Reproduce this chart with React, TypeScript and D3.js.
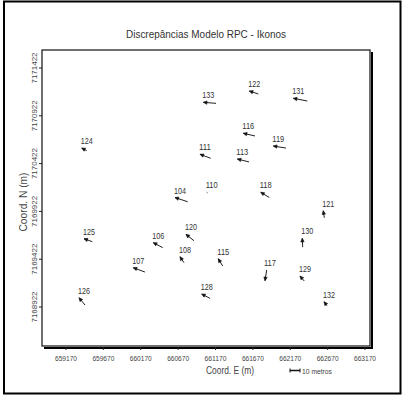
import React from "react";
import * as d3 from "d3";

const title = "Discrepâncias Modelo RPC - Ikonos";
const xTicks = [659170, 659670, 660170, 660670, 661170, 661670, 662170, 662670, 663170];
const yTicks = [7168922, 7169422, 7169922, 7170422, 7170922, 7171422];
const stationIds = ["133", "124", "111", "104", "110", "122", "131", "116", "119", "113", "118", "125", "106", "120", "108", "115", "107", "126", "128", "121", "130", "117", "129", "132"];
const eastings = [661007, 659380, 660963, 660628, 661052, 661622, 662211, 661542, 661943, 661462, 661775, 659411, 660338, 660775, 660695, 661207, 660070, 659344, 660985, 662612, 662331, 661832, 662300, 662622];
const northings = [7171063, 7170585, 7170519, 7170067, 7170122, 7171181, 7171105, 7170739, 7170606, 7170470, 7170122, 7169636, 7169595, 7169682, 7169448, 7169427, 7169333, 7169019, 7169058, 7169929, 7169641, 7169197, 7169246, 7168977];
const discE = [-12.7, -5, -10.7, -12.7, -0.8, -9, -14, -11.7, -12.7, -11.7, -8.6, -8.3, -9.4, -8, -4, -4.4, -11.7, -6, -8.3, -1, -0.4, -1.7, -4.3, -3];
const discN = [0.8, 2.1, 3.1, 3.3, 0.4, 2.3, 2.1, 2.1, 1.6, 2.3, 4.1, 2.3, 3.9, 5.0, 4.7, 5.7, 3.4, 5.7, 3.4, 5.5, 7.0, -8.4, 3.9, 3.1];
const legendMeters = 10;
const exaggeration = 13.378;

const FONT = "Liberation Sans, Arial, sans-serif";

export default function App() {
  const W = 402, H = 395;
  const x = d3.scaleLinear().domain([659170, 663170]).range([66, 365]);
  const y = d3.scaleLinear().domain([7168922, 7171422]).range([307, 68]);
  const L = 42, T = 50, R = 370, B = 346;

  const arrows = stationIds.map((id, i) => {
    const hx = x(eastings[i]);
    const hy = y(northings[i]);
    const tx = x(eastings[i] - discE[i] * exaggeration);
    const ty = y(northings[i] - discN[i] * exaggeration);
    const dx = hx - tx, dy = hy - ty;
    const len = Math.hypot(dx, dy);
    let head = "";
    if (len > 1.5) {
      const ux = dx / len, uy = dy / len;
      const hl = 3.6, hw = 1.7;
      const bx = hx - ux * hl, by = hy - uy * hl;
      head = `M${hx},${hy}L${bx - uy * hw},${by + ux * hw}L${bx + uy * hw},${by - ux * hw}Z`;
    }
    return { id, hx, hy, tx, ty, head, lx: Math.min(hx, tx) - 1, ly: Math.min(hy, ty) - 4 };
  });

  const legX0 = 290;
  const legW = x(659170 + legendMeters * exaggeration) - x(659170);

  return (
    <svg width={W} height={H} style={{ position: "absolute", left: 0, top: 0, background: "#fff" }}>
      <rect x={0} y={0} width={W} height={H} fill="#fff" />
      <rect x={4} y={1.5} width={396.5} height={392} fill="none" stroke="#000" strokeWidth={2} />
      <text x={206} y={38} textAnchor="middle" fontFamily={FONT} fontSize={10} fill="#333" textLength={160} lengthAdjust="spacingAndGlyphs">{title}</text>
      {/* plot frame with shadow */}
      <line x1={R + 2} y1={T + 2} x2={R + 2} y2={B + 2} stroke="#000" strokeWidth={2} />
      <line x1={L + 2} y1={B + 2} x2={R + 3} y2={B + 2} stroke="#000" strokeWidth={2} />
      <rect x={L} y={T} width={R - L} height={B - T} fill="#fff" stroke="#222" strokeWidth={1.3} />
      {xTicks.map((t) => (
        <g key={"xt" + t}>
          <line x1={x(t)} x2={x(t)} y1={B + 1} y2={B + 4} stroke="#222" strokeWidth={1} />
          <text x={x(t)} y={361} textAnchor="middle" fontFamily={FONT} fontSize={7} fill="#444" textLength={22} lengthAdjust="spacingAndGlyphs">{t}</text>
        </g>
      ))}
      {yTicks.map((t) => (
        <g key={"yt" + t}>
          <line x1={L - 3} x2={L} y1={y(t)} y2={y(t)} stroke="#222" strokeWidth={1} />
          <text transform={`translate(37,${y(t)}) rotate(-90)`} textAnchor="middle" fontFamily={FONT} fontSize={7.8} fill="#444" textLength={31} lengthAdjust="spacingAndGlyphs">{t}</text>
        </g>
      ))}
      <text x={230} y={374} textAnchor="middle" fontFamily={FONT} fontSize={10} fill="#444" textLength={48} lengthAdjust="spacingAndGlyphs">Coord. E (m)</text>
      <text transform="translate(27,202) rotate(-90)" textAnchor="middle" fontFamily={FONT} fontSize={10} fill="#444" textLength={59} lengthAdjust="spacingAndGlyphs">Coord. N (m)</text>
      {/* legend */}
      <line x1={legX0} x2={legX0 + legW} y1={370.5} y2={370.5} stroke="#111" strokeWidth={1.5} />
      <line x1={legX0} x2={legX0} y1={368.5} y2={372.5} stroke="#111" strokeWidth={1} />
      <line x1={legX0 + legW} x2={legX0 + legW} y1={368.5} y2={372.5} stroke="#111" strokeWidth={1} />
      <text x={302} y={373.5} fontFamily={FONT} fontSize={8} fill="#444" textLength={30} lengthAdjust="spacingAndGlyphs">{legendMeters} metros</text>
      {arrows.map((a) => (
        <g key={a.id}>
          <line x1={a.tx} y1={a.ty} x2={a.hx} y2={a.hy} stroke="#222" strokeWidth={1} />
          {a.head ? <path d={a.head} fill="#111" stroke="#111" strokeWidth={0.6} /> : null}
          <text x={a.lx} y={a.ly} fontFamily={FONT} fontSize={8.5} fill="#333" textLength={12} lengthAdjust="spacingAndGlyphs">{a.id}</text>
        </g>
      ))}
    </svg>
  );
}
